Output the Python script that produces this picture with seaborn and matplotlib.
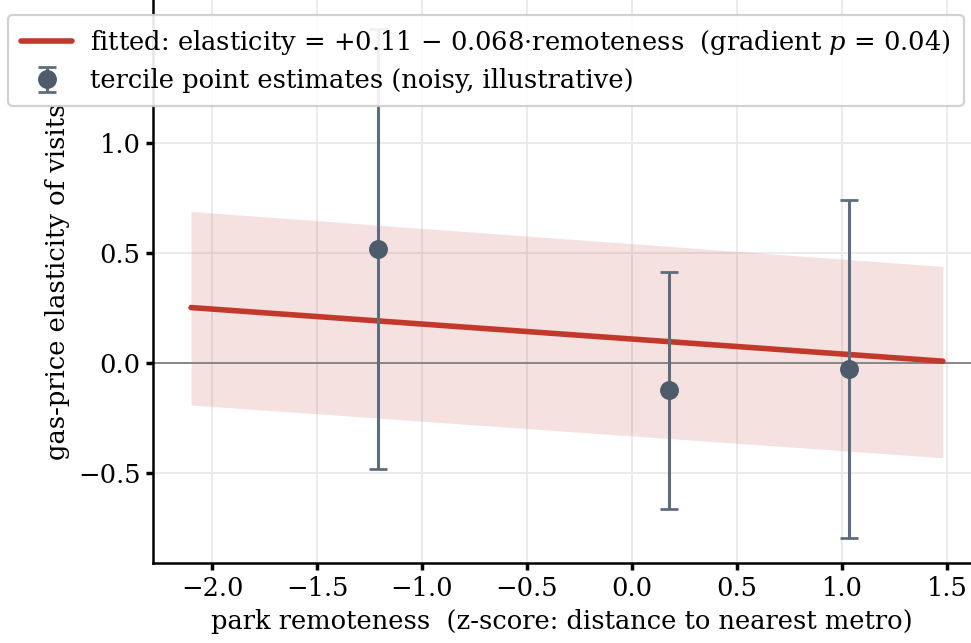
import numpy as np
import pandas as pd
import seaborn as sns
import matplotlib.pyplot as plt

# fitted line and its band (endpoints)
fit_x = [-2.1, 1.48]
fit_y = [0.253, 0.009]
band_lo = [-0.19, -0.43]
band_hi = [0.69, 0.44]

# tercile point estimates with error bars
terc_x = [-1.21, 0.175, 1.035]
terc_y = [0.518, -0.123, -0.027]
terc_err = [1.0, 0.54, 0.77]

fit_label = "fitted: elasticity = +0.11 \u2212 0.068\u00b7remoteness  (gradient $p$ = 0.04)"
pts_label = "tercile point estimates (noisy, illustrative)"

fs = 9.25

sns.set_theme(style="whitegrid", rc={
    "axes.edgecolor": "black",
    "axes.linewidth": 0.9,
    "grid.color": "#ebebeb",
    "grid.linewidth": 0.7,
    "xtick.bottom": True,
    "ytick.left": True,
    "xtick.major.size": 2.5,
    "ytick.major.size": 2.5,
    "xtick.color": "black",
    "ytick.color": "black",
    "text.color": "black",
    "axes.labelcolor": "black",
})
plt.rcParams["font.family"] = ["DejaVu Serif"]
plt.rcParams["mathtext.fontset"] = "dejavuserif"
plt.rcParams["font.size"] = fs

fig = plt.figure(figsize=(9.71 / 2, 6.43 / 2), dpi=200)
ax = fig.add_axes([0.1576, 0.1244, 0.8424, 0.8756])

red = "#c0392b"
slate = "#5d6d7e"

ax.fill_between(fit_x, band_lo, band_hi, color=red, alpha=0.15, linewidth=0)
fit_df = pd.DataFrame({"x": fit_x, "y": fit_y})
sns.lineplot(data=fit_df, x="x", y="y", ax=ax, color=red, linewidth=2.0, label=fit_label)
ax.axhline(0, color="#888888", linewidth=0.7, zorder=1)
ax.errorbar(terc_x, terc_y, yerr=terc_err, fmt="o", color=slate, ecolor=slate,
            markerfacecolor="#4d5b6b", markeredgecolor="#4d5b6b", markersize=5.8,
            elinewidth=1.1, capsize=3.4, capthick=1.0, label=pts_label, zorder=4)

ax.set_xlim(-2.281, 1.614)
ax.set_ylim(-0.909, 1.652)
ax.set_xticks(np.arange(-2.0, 1.51, 0.5))
ax.set_yticks([-0.5, 0.0, 0.5, 1.0])
ax.set_xlabel("park remoteness  (z-score: distance to nearest metro)", fontsize=fs, labelpad=3)
ax.set_ylabel("gas-price elasticity of visits", fontsize=fs, labelpad=3)
ax.tick_params(labelsize=fs, pad=2)
sns.despine(ax=ax)

leg = ax.legend(loc="upper left", bbox_to_anchor=(8 / 971, 1 - 15 / 643),
                bbox_transform=fig.transFigure, borderaxespad=0, fontsize=fs,
                frameon=True, framealpha=0.9, edgecolor="#cccccc", fancybox=True,
                handlelength=2.0, handletextpad=0.7, borderpad=0.5, labelspacing=0.45)
leg.get_frame().set_linewidth(0.8)

fig.savefig("out.png", dpi=200)
